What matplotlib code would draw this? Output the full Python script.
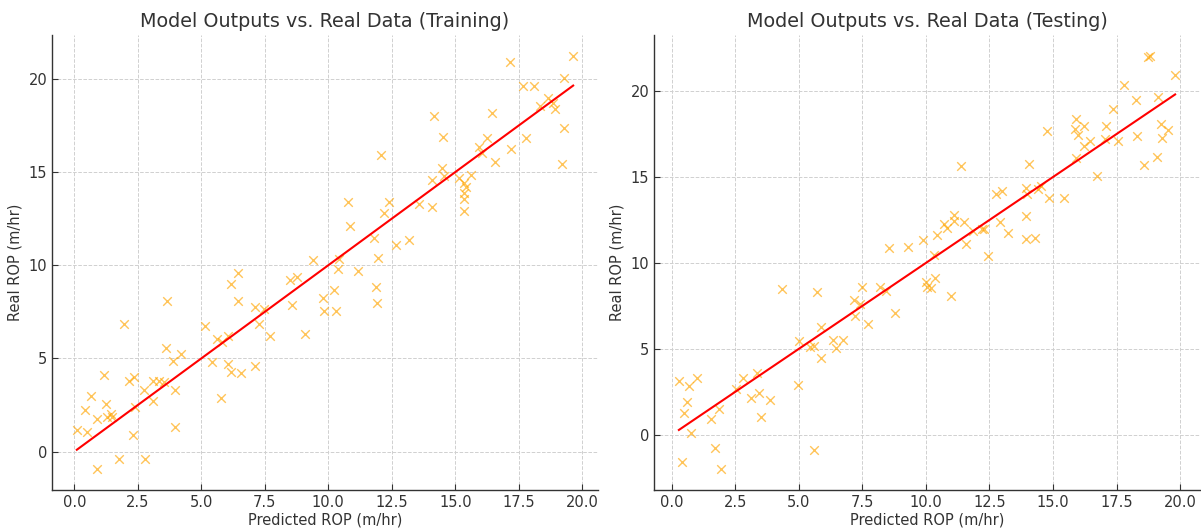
import matplotlib
matplotlib.use("Agg")
import matplotlib.pyplot as plt
import numpy as np

# Training data (predicted, real)
train_pred = [0.10, 0.41, 0.50, 0.67, 0.91, 0.91, 1.17, 1.25, 1.30, 1.43, 1.49, 1.75, 1.95, 2.14,
              2.34, 2.30, 2.41, 2.76, 2.80, 3.10, 3.10, 3.33, 3.53, 3.62, 3.66, 3.88, 3.95, 3.95,
              4.21, 5.13, 5.41, 5.61, 5.79, 5.83, 6.05, 6.05, 6.18, 6.18, 6.45, 6.45, 6.58, 7.11,
              7.12, 7.28, 7.45, 7.71, 8.49, 8.75, 8.57, 9.08, 9.80, 9.84, 9.38, 10.21, 10.30, 10.37,
              10.41, 11.16, 11.95, 11.78, 10.79, 10.86, 12.08, 12.38, 12.18, 12.67, 13.17, 13.59,
              14.08, 14.07, 14.18, 14.51, 14.49, 14.54, 15.14, 15.34, 15.41, 15.34, 15.34, 15.34,
              15.61, 15.93, 16.07, 16.23, 16.55, 16.46, 17.17, 17.21, 17.65, 18.09, 17.80, 18.33,
              18.66, 18.86, 18.93, 19.28, 19.29, 19.21, 19.64, 11.88, 11.91]
train_real = [1.15, 2.24, 1.04, 2.96, 1.76, -0.95, 4.09, 2.56, 1.88, 2.01, 1.88, -0.38, 6.87, 3.80,
              4.03, 0.88, 2.42, 3.28, -0.41, 3.80, 2.69, 3.80, 3.73, 5.58, 8.07, 4.84, 3.28, 1.33,
              5.25, 6.76, 4.79, 6.06, 2.89, 5.88, 6.18, 4.68, 9.02, 4.27, 9.59, 8.07, 4.21, 4.62,
              7.76, 6.87, 7.66, 6.18, 9.19, 9.36, 7.85, 6.31, 8.25, 7.57, 10.27, 8.66, 7.57, 9.81,
              10.31, 9.68, 10.38, 11.47, 13.42, 12.08, 15.90, 13.37, 12.82, 11.06, 11.38, 13.28,
              13.14, 14.59, 18.01, 16.88, 15.24, 14.78, 14.70, 14.39, 14.21, 13.89, 13.57, 12.90,
              14.82, 16.37, 16.04, 16.85, 15.54, 18.16, 20.93, 16.26, 19.62, 19.62, 16.85, 18.52,
              18.95, 18.69, 18.37, 20.02, 17.37, 15.43, 21.24, 8.84, 7.98]

# Testing data (predicted, real)
test_pred = [0.29, 0.43, 0.50, 0.60, 0.70, 0.75, 1.01, 1.54, 1.71, 1.87, 1.93, 2.54, 2.80, 3.12,
             3.36, 3.45, 3.53, 3.88, 4.34, 4.96, 5.03, 5.43, 5.59, 5.62, 5.72, 5.87, 5.88, 6.34,
             6.47, 6.75, 7.17, 7.21, 7.41, 7.50, 7.72, 8.18, 8.42, 8.79, 8.55, 9.30, 9.87, 10.00,
             10.04, 10.22, 10.37, 10.99, 10.33, 10.43, 10.70, 10.83, 11.09, 11.12, 11.38, 11.51,
             11.58, 11.84, 12.21, 12.30, 12.46, 12.76, 12.99, 12.93, 13.22, 13.92, 13.97, 13.95,
             13.92, 14.30, 14.05, 14.41, 14.54, 14.78, 14.83, 15.42, 15.92, 15.88, 15.99, 16.21,
             15.92, 16.23, 16.45, 16.74, 17.07, 17.04, 17.34, 17.57, 17.80, 18.26, 18.32, 18.58,
             18.75, 18.82, 19.12, 19.08, 19.25, 19.54, 19.28, 19.80]
test_real = [3.16, -1.55, 1.30, 1.94, 2.87, 0.12, 3.34, 0.91, -0.76, 1.50, -2.00, 2.68, 3.34, 2.17,
             3.59, 2.43, 1.03, 2.04, 8.49, 2.91, 5.44, 5.09, 5.15, -0.87, 8.29, 4.47, 6.25, 5.54,
             5.05, 5.54, 7.87, 6.93, 7.63, 8.61, 6.47, 8.61, 8.35, 7.09, 10.88, 10.92, 11.36, 8.88,
             8.61, 8.55, 9.13, 8.06, 10.49, 11.61, 12.24, 12.04, 12.78, 12.43, 15.64, 12.39,
             11.13, 11.85, 11.95, 11.99, 10.43, 13.99, 14.18, 12.37, 11.75, 14.38, 13.99, 12.76,
             11.42, 11.46, 15.73, 14.32, 14.47, 17.68, 13.79, 13.75, 18.40, 17.81, 17.42, 17.97,
             16.12, 16.80, 17.09, 15.05, 17.97, 17.19, 18.98, 17.09, 20.36, 19.48, 17.38, 15.68,
             21.95, 22.05, 19.68, 16.18, 18.10, 17.73, 17.29, 20.94]

titles = ["Model Outputs vs. Real Data (Training)", "Model Outputs vs. Real Data (Testing)"]
xlabel = "Predicted ROP (m/hr)"
ylabel = "Real ROP (m/hr)"

plt.rcParams['font.family'] = ['DejaVu Sans']
text_color = '#333333'

fig = plt.figure(figsize=(12.01, 5.29), dpi=100)
ax1 = fig.add_axes([0.0433, 0.0737, 0.4546, 0.860])
ax2 = fig.add_axes([0.5446, 0.0737, 0.4545, 0.860])

for ax, xp, yr, title in [(ax1, train_pred, train_real, titles[0]),
                          (ax2, test_pred, test_real, titles[1])]:
    ax.scatter(xp, yr, marker='x', color='orange', alpha=0.65, s=38, linewidths=1.0, zorder=3)
    lo, hi = min(xp), max(xp)
    ax.plot([lo, hi], [lo, hi], color='red', linewidth=1.5, zorder=4)
    ax.set_title(title, fontsize=13.8, color=text_color, pad=6)
    ax.set_xlabel(xlabel, fontsize=10.5, color=text_color, labelpad=2)
    ax.set_ylabel(ylabel, fontsize=10.5, color=text_color, labelpad=4)
    ax.set_xticks([0.0, 2.5, 5.0, 7.5, 10.0, 12.5, 15.0, 17.5, 20.0])
    ax.set_yticks([0, 5, 10, 15, 20])
    ax.grid(True, linestyle='--', color='#d0d0d0', linewidth=0.7)
    ax.set_axisbelow(True)
    for s in ['top', 'right']:
        ax.spines[s].set_visible(False)
    for s in ['left', 'bottom']:
        ax.spines[s].set_color('#333333')
        ax.spines[s].set_linewidth(1.0)
    ax.tick_params(direction='in', length=4, color='#333333', labelcolor=text_color,
                   labelsize=10.5)

fig.savefig("out.png", dpi=100)
